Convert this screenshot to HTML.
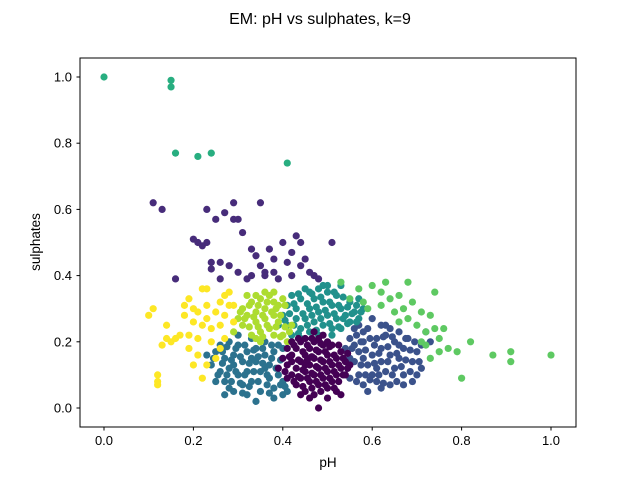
<!DOCTYPE html>
<html><head><meta charset="utf-8"><style>
body{margin:0;background:#fff;width:640px;height:480px;overflow:hidden}
svg text{font-family:"Liberation Sans","DejaVu Sans",sans-serif;fill:#000}
</style></head><body>
<svg id="chart" width="640" height="480" xmlns="http://www.w3.org/2000/svg">
<rect width="640" height="480" fill="#fff"/>
<text x="320" y="24" text-anchor="middle" font-size="16">EM: pH vs sulphates, k=9</text>
<g id="points"></g>
<rect x="80" y="58" width="496" height="369" fill="none" stroke="#000" stroke-width="1"/>
<g id="axes"></g>
<text x="328" y="467" text-anchor="middle" font-size="13.5">pH</text>
<text transform="translate(40,242) rotate(-90)" text-anchor="middle" font-size="13.5">sulphates</text>
</svg>
<script>
const xTicks=[0.0,0.2,0.4,0.6,0.8,1.0];
const yTicks=[0.0,0.2,0.4,0.6,0.8,1.0];
const xTickLabels=["0.0","0.2","0.4","0.6","0.8","1.0"];
const yTickLabels=["0.0","0.2","0.4","0.6","0.8","1.0"];
const clusterColors=["#440154","#472c7a","#3b528b","#2c728e","#21918c","#28ae80","#5ec962","#addc30","#fde725"];
const cluster0=[[0.41,0.13],[0.42,0.10],[0.42,0.16],[0.43,0.07],[0.43,0.12],[0.43,0.18],[0.44,0.09],[0.44,0.14],[0.44,0.20],[0.45,0.05],[0.45,0.11],[0.45,0.16],[0.45,0.21],[0.46,0.08],[0.46,0.13],[0.46,0.18],[0.47,0.04],[0.47,0.10],[0.47,0.15],[0.47,0.20],[0.47,0.23],[0.48,0.07],[0.48,0.12],[0.48,0.17],[0.49,0.09],[0.49,0.14],[0.49,0.19],[0.49,0.22],[0.50,0.06],[0.50,0.11],[0.50,0.16],[0.51,0.08],[0.51,0.13],[0.51,0.19],[0.52,0.10],[0.52,0.15],[0.52,0.05],[0.53,0.12],[0.53,0.17],[0.54,0.14],[0.40,0.15],[0.41,0.18],[0.46,0.03],[0.48,0.00],[0.50,0.03],[0.53,0.04],[0.44,0.04],[0.48,0.21],[0.45,0.13],[0.50,0.20],[0.42,0.14],[0.54,0.10],[0.55,0.13],[0.39,0.12],
[0.405,0.11],[0.415,0.155],[0.425,0.08],[0.425,0.19],[0.435,0.095],[0.435,0.145],[0.435,0.21],[0.445,0.065],[0.445,0.115],[0.445,0.17],[0.455,0.09],[0.455,0.145],[0.455,0.19],[0.465,0.06],[0.465,0.105],[0.465,0.155],[0.465,0.21],[0.475,0.08],[0.475,0.125],[0.475,0.175],[0.485,0.05],[0.485,0.10],[0.485,0.145],[0.485,0.195],[0.495,0.07],[0.495,0.12],[0.495,0.17],[0.505,0.09],[0.505,0.14],[0.505,0.185],[0.515,0.06],[0.515,0.11],[0.515,0.16],[0.525,0.08],[0.525,0.13],[0.525,0.19],[0.535,0.10],[0.535,0.15],[0.545,0.12],[0.545,0.165],[0.41,0.09],[0.42,0.20]];
const cluster1=[[0.11,0.62],[0.13,0.60],[0.16,0.39],[0.20,0.51],[0.21,0.50],[0.22,0.49],[0.23,0.50],[0.23,0.60],[0.24,0.44],[0.24,0.42],[0.25,0.57],[0.26,0.39],[0.27,0.59],[0.28,0.43],[0.29,0.57],[0.29,0.62],[0.30,0.41],[0.30,0.57],[0.31,0.53],[0.32,0.39],[0.33,0.48],[0.34,0.46],[0.35,0.62],[0.35,0.43],[0.36,0.41],[0.37,0.48],[0.38,0.41],[0.39,0.39],[0.40,0.50],[0.41,0.44],[0.42,0.40],[0.43,0.52],[0.44,0.50],[0.44,0.43],[0.45,0.45],[0.46,0.41],[0.47,0.40],[0.51,0.50],[0.36,0.40],[0.38,0.45],[0.26,0.44],[0.48,0.39],[0.33,0.40],[0.42,0.47]];
const cluster2=[[0.54,0.18],[0.55,0.21],[0.55,0.09],[0.56,0.14],[0.56,0.24],[0.57,0.10],[0.57,0.17],[0.58,0.20],[0.58,0.07],[0.59,0.13],[0.59,0.24],[0.60,0.16],[0.60,0.10],[0.61,0.21],[0.61,0.08],[0.62,0.14],[0.62,0.18],[0.62,0.25],[0.63,0.11],[0.63,0.22],[0.64,0.16],[0.64,0.07],[0.65,0.20],[0.65,0.12],[0.66,0.23],[0.66,0.15],[0.67,0.10],[0.67,0.18],[0.68,0.21],[0.69,0.14],[0.69,0.08],[0.70,0.17],[0.71,0.12],[0.71,0.19],[0.72,0.23],[0.57,0.25],[0.60,0.27],[0.64,0.24],[0.56,0.19],[0.58,0.15],[0.61,0.12],[0.66,0.19],[0.70,0.10],[0.55,0.15],[0.59,0.05],
[0.545,0.12],[0.555,0.18],[0.565,0.08],[0.565,0.22],[0.575,0.13],[0.575,0.20],[0.585,0.10],[0.585,0.175],[0.595,0.21],[0.595,0.085],[0.605,0.135],[0.605,0.19],[0.615,0.10],[0.615,0.165],[0.625,0.075],[0.625,0.215],[0.635,0.14],[0.635,0.185],[0.645,0.10],[0.645,0.215],[0.655,0.165],[0.655,0.08],[0.665,0.125],[0.675,0.145],[0.675,0.21],[0.685,0.11],[0.685,0.175],[0.695,0.20],[0.705,0.14],[0.63,0.25],[0.58,0.23],[0.62,0.06],[0.73,0.20],[0.67,0.07]];
const cluster3=[[0.24,0.13],[0.25,0.17],[0.26,0.11],[0.26,0.19],[0.27,0.08],[0.27,0.15],[0.28,0.12],[0.28,0.20],[0.29,0.05],[0.29,0.16],[0.30,0.10],[0.30,0.19],[0.31,0.14],[0.31,0.07],[0.32,0.17],[0.32,0.11],[0.33,0.21],[0.33,0.08],[0.34,0.14],[0.34,0.18],[0.35,0.11],[0.35,0.05],[0.36,0.16],[0.36,0.20],[0.37,0.09],[0.37,0.13],[0.38,0.17],[0.38,0.06],[0.39,0.10],[0.39,0.19],[0.40,0.08],[0.41,0.05],[0.40,0.04],[0.38,0.03],[0.32,0.04],[0.27,0.04],[0.23,0.16],[0.25,0.08],[0.34,0.02],[0.30,0.22],[0.36,0.12],[0.33,0.15],[0.29,0.13],
[0.245,0.15],[0.255,0.10],[0.265,0.135],[0.265,0.17],[0.275,0.10],[0.275,0.185],[0.285,0.08],[0.285,0.145],[0.295,0.11],[0.295,0.18],[0.305,0.075],[0.305,0.155],[0.315,0.10],[0.315,0.19],[0.325,0.065],[0.325,0.135],[0.335,0.11],[0.335,0.175],[0.345,0.08],[0.345,0.155],[0.355,0.135],[0.355,0.18],[0.365,0.07],[0.365,0.10],[0.375,0.15],[0.375,0.19],[0.385,0.12],[0.395,0.07],[0.395,0.145],[0.405,0.065],[0.40,0.18],[0.37,0.045],[0.31,0.045],[0.28,0.06]];
const cluster4=[[0.40,0.28],[0.41,0.31],[0.41,0.25],[0.42,0.22],[0.42,0.34],[0.43,0.27],[0.43,0.30],[0.44,0.24],[0.44,0.33],[0.45,0.27],[0.45,0.36],[0.46,0.23],[0.46,0.30],[0.47,0.26],[0.47,0.33],[0.48,0.29],[0.48,0.36],[0.49,0.25],[0.49,0.32],[0.50,0.28],[0.50,0.35],[0.51,0.24],[0.51,0.31],[0.52,0.27],[0.52,0.34],[0.53,0.30],[0.53,0.24],[0.54,0.28],[0.55,0.32],[0.55,0.26],[0.56,0.29],[0.57,0.33],[0.57,0.27],[0.58,0.30],[0.49,0.37],[0.46,0.35],[0.53,0.37],[0.39,0.25],[0.44,0.21],[0.51,0.22],
[0.405,0.265],[0.415,0.285],[0.425,0.25],[0.425,0.315],[0.435,0.225],[0.435,0.345],[0.445,0.285],[0.455,0.25],[0.455,0.315],[0.465,0.28],[0.465,0.345],[0.475,0.235],[0.475,0.305],[0.485,0.27],[0.485,0.335],[0.495,0.295],[0.505,0.255],[0.505,0.32],[0.515,0.285],[0.515,0.35],[0.525,0.245],[0.525,0.31],[0.535,0.27],[0.535,0.335],[0.545,0.255],[0.545,0.305],[0.555,0.285],[0.565,0.31],[0.565,0.26],[0.575,0.29],[0.48,0.22],[0.50,0.37]];
const cluster5=[[0.00,1.00],[0.15,0.99],[0.15,0.97],[0.16,0.77],[0.21,0.76],[0.24,0.77],[0.41,0.74]];
const cluster6=[[0.53,0.38],[0.55,0.33],[0.57,0.36],[0.58,0.32],[0.59,0.30],[0.60,0.37],[0.62,0.35],[0.62,0.31],[0.63,0.38],[0.64,0.33],[0.65,0.29],[0.66,0.34],[0.67,0.30],[0.68,0.38],[0.68,0.27],[0.69,0.32],[0.70,0.25],[0.71,0.29],[0.72,0.23],[0.72,0.19],[0.73,0.28],[0.73,0.15],[0.74,0.24],[0.75,0.21],[0.75,0.17],[0.76,0.24],[0.77,0.18],[0.79,0.17],[0.80,0.09],[0.82,0.20],[0.87,0.16],[0.91,0.17],[0.91,0.14],[1.00,0.16],[0.74,0.35],[0.66,0.26],[0.71,0.20]];
const cluster7=[[0.31,0.25],[0.31,0.30],[0.32,0.28],[0.33,0.22],[0.33,0.32],[0.34,0.26],[0.34,0.29],[0.35,0.23],[0.35,0.33],[0.36,0.27],[0.36,0.30],[0.37,0.24],[0.37,0.34],[0.38,0.28],[0.38,0.22],[0.39,0.31],[0.39,0.26],[0.40,0.22],[0.40,0.33],[0.41,0.20],[0.32,0.34],[0.36,0.35],[0.30,0.27],[0.35,0.20],[0.38,0.32],[0.42,0.25],[0.34,0.21],[0.29,0.23],
[0.305,0.29],[0.315,0.27],[0.325,0.245],[0.325,0.31],[0.335,0.275],[0.345,0.245],[0.345,0.31],[0.355,0.28],[0.355,0.215],[0.365,0.25],[0.365,0.32],[0.375,0.29],[0.385,0.245],[0.385,0.30],[0.395,0.215],[0.395,0.28],[0.405,0.245],[0.405,0.31],[0.415,0.23],[0.34,0.34],[0.38,0.35]];
const cluster8=[[0.10,0.28],[0.11,0.30],[0.12,0.10],[0.12,0.08],[0.13,0.19],[0.14,0.25],[0.14,0.21],[0.15,0.20],[0.16,0.21],[0.18,0.31],[0.18,0.28],[0.19,0.33],[0.19,0.22],[0.19,0.18],[0.20,0.13],[0.21,0.29],[0.21,0.21],[0.21,0.16],[0.22,0.36],[0.22,0.09],[0.23,0.27],[0.23,0.31],[0.24,0.20],[0.24,0.24],[0.25,0.29],[0.25,0.15],[0.26,0.32],[0.26,0.25],[0.27,0.21],[0.27,0.28],[0.28,0.35],[0.28,0.31],[0.29,0.26],[0.23,0.36],[0.20,0.26],[0.12,0.07],[0.17,0.22],[0.22,0.25],[0.20,0.30],[0.26,0.18],[0.23,0.13],[0.29,0.31],[0.27,0.34]];
const clusters=[cluster0,cluster1,cluster2,cluster3,cluster4,cluster5,cluster6,cluster7,cluster8];

const NS="http://www.w3.org/2000/svg";
function xScale(v){return 104+v*447;}
function yScale(v){return 408-v*331;}
const pts=document.getElementById('points');
const drawOrder=[3,2,4,7,8,1,6,0,5];
drawOrder.forEach(ci=>{
  clusters[ci].forEach(p=>{
    const c=document.createElementNS(NS,'circle');
    c.setAttribute('cx',xScale(p[0]));c.setAttribute('cy',yScale(p[1]));
    c.setAttribute('r',3.6);c.setAttribute('fill',clusterColors[ci]);
    
    
    pts.appendChild(c);
  });
});
const axes=document.getElementById('axes');
xTicks.forEach((t,i)=>{
  const x=xScale(t);
  const l=document.createElementNS(NS,'line');
  l.setAttribute('x1',x);l.setAttribute('x2',x);l.setAttribute('y1',427);l.setAttribute('y2',430.5);l.setAttribute('stroke','#000');
  
  
  axes.appendChild(l);
  const tx=document.createElementNS(NS,'text');
  tx.setAttribute('x',x);tx.setAttribute('y',445);tx.setAttribute('text-anchor','middle');tx.setAttribute('font-size','13');
  tx.textContent=xTickLabels[i];
  
  
  axes.appendChild(tx);
});
yTicks.forEach((t,i)=>{
  const y=yScale(t);
  const l=document.createElementNS(NS,'line');
  l.setAttribute('x1',76.5);l.setAttribute('x2',80);l.setAttribute('y1',y);l.setAttribute('y2',y);l.setAttribute('stroke','#000');
  
  
  axes.appendChild(l);
  const tx=document.createElementNS(NS,'text');
  tx.setAttribute('x',72);tx.setAttribute('y',y+4.5);tx.setAttribute('text-anchor','end');tx.setAttribute('font-size','13');
  tx.textContent=yTickLabels[i];
  
  
  axes.appendChild(tx);
});
</script>
</body></html>
